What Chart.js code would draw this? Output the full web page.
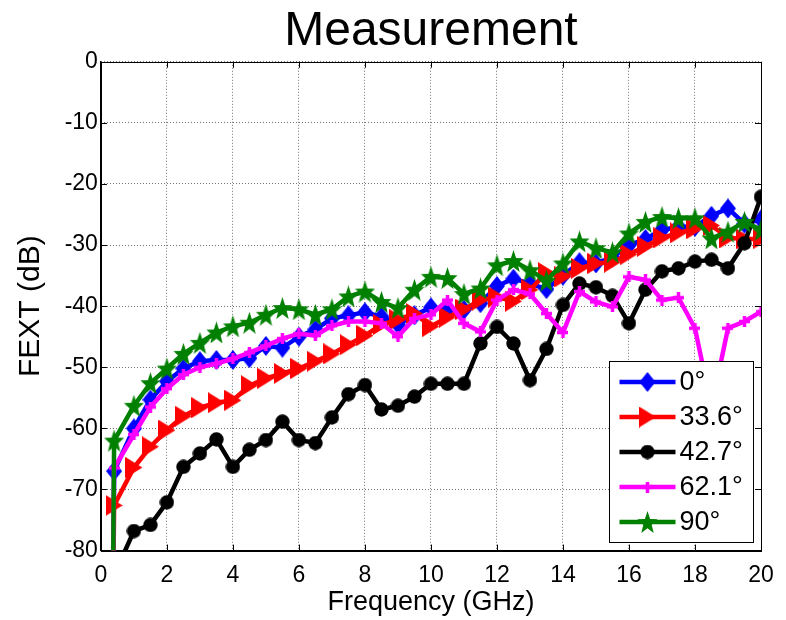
<!DOCTYPE html>
<html>
<head>
<meta charset="utf-8">
<script src="https://cdn.jsdelivr.net/npm/chart.js@4.4.1/dist/chart.umd.min.js"></script>
<style>
  html, body { margin: 0; padding: 0; background: #fff; }
</style>
</head>
<body>
<canvas id="thecanvas" width="786" height="620"></canvas>
<script>
// frequency points (GHz); first one is the low start point that drops off the axis
const freq = [0.35, 0.4, 1, 1.5, 2, 2.5, 3, 3.5, 4, 4.5, 5, 5.5, 6, 6.5, 7, 7.5, 8, 8.5, 9, 9.5,
  10, 10.5, 11, 11.5, 12, 12.5, 13, 13.5, 14, 14.5, 15, 15.5, 16, 16.5, 17, 17.5, 18, 18.5, 19, 19.5, 20];

const deg0 = [-100, -67, -60, -55.3, -52.3, -50.2, -49, -48.8, -48.8, -48.5, -46.5, -46.8, -45, -43.8, -42,
  -41.5, -41, -41.7, -43, -41.5, -40.2, -40.5, -40.6, -39.5, -36.7, -35.5, -36.3, -37.2, -35, -32.8,
  -33, -32, -30, -29, -27.5, -27, -27, -25.2, -24, -26.5, -25.8];
const deg33 = [-100, -72.6, -66.4, -63, -60.3, -58, -56.6, -55.8, -55.4, -53, -51.8, -51, -50.2, -49, -47.8,
  -46.3, -44.8, -43, -42.2, -41.2, -43.3, -41.8, -40.5, -39, -38.5, -39.2, -37.3, -34.5, -35.2, -33.8,
  -33, -32.8, -31.5, -30.2, -28.8, -28, -27.3, -26.8, -28.8, -29, -29];
const deg42 = [-100, -84, -76.8, -75.8, -72.1, -66.3, -64.1, -61.8, -66.3, -63.5, -61.9, -58.9, -61.9, -62.4, -58.2,
  -54.4, -52.9, -56.9, -56.3, -54.8, -52.7, -52.7, -52.7, -46.1, -43.4, -46.1, -52.1, -47, -39.8, -36.3,
  -36.9, -38.3, -42.8, -37.3, -34.3, -33.8, -32.7, -32.4, -33.8, -29.7, -22.1];
const deg62 = [-100, -66.5, -61, -56.5, -53.5, -51.2, -50, -49.4, -48.6, -47.6, -46.5, -45.3, -44.5, -44.8, -43.2,
  -42.5, -42.5, -42.8, -45, -42, -41.4, -39, -42.8, -44.2, -39, -37.3, -38, -41.2, -44.3, -37.6,
  -39.3, -40.1, -35.2, -35.7, -39, -38.6, -43.6, -56.5, -43.6, -42.5, -40.9];
const deg90 = [-100, -62, -56.3, -52.6, -50.2, -47.8, -46, -44.3, -43.3, -42.7, -41.4, -40.3, -40.5, -41.4, -40.5,
  -38.4, -37.6, -39.3, -40.3, -37.3, -35.2, -35.4, -38, -37.1, -33.3, -32.6, -34.1, -35.8, -33, -29.4,
  -30.5, -31.2, -28.1, -26.2, -25.4, -25.6, -25.6, -28.9, -27.8, -26.2, -27.5];

const names = ['0°', '33.6°', '42.7°', '62.1°', '90°'];
const colors = ['#0000ff', '#ff0000', '#000000', '#ff00ff', '#008000'];

const fontfam = '"Liberation Sans", Arial, Helvetica, sans-serif';

// marker pictures, drawn once on small canvases
function makemarker(kind, color) {
  const c = document.createElement('canvas');
  let w = 16, h = 20;
  if (kind === 'tri') { w = 17; h = 21; }
  if (kind === 'circle') { w = 15; h = 15; }
  if (kind === 'plus') { w = 11; h = 11; }
  if (kind === 'star') { w = 21; h = 22; }
  c.width = w; c.height = h;
  const g = c.getContext('2d');
  g.fillStyle = color; g.strokeStyle = color;
  if (kind === 'diamond') {
    g.beginPath(); g.moveTo(w / 2, 0); g.lineTo(w, h / 2); g.lineTo(w / 2, h); g.lineTo(0, h / 2); g.closePath(); g.fill();
  } else if (kind === 'tri') {
    g.beginPath(); g.moveTo(0, 0); g.lineTo(w, h / 2); g.lineTo(0, h); g.closePath(); g.fill();
  } else if (kind === 'circle') {
    g.beginPath(); g.arc(w / 2, h / 2, w / 2 - 0.3, 0, Math.PI * 2); g.fill();
  } else if (kind === 'plus') {
    g.lineWidth = 3.5;
    g.beginPath(); g.moveTo(0, h / 2); g.lineTo(w, h / 2); g.moveTo(w / 2, 0); g.lineTo(w / 2, h); g.stroke();
  } else if (kind === 'star') {
    g.beginPath();
    for (let i = 0; i < 10; i++) {
      const r = i % 2 === 0 ? 1 : 0.42;
      const a = -Math.PI / 2 + i * Math.PI / 5;
      const px = w / 2 + Math.cos(a) * r * w / 2;
      const py = h * 0.55 + Math.sin(a) * r * h * 0.55;
      if (i === 0) g.moveTo(px, py); else g.lineTo(px, py);
    }
    g.closePath(); g.fill();
  }
  return c;
}

const markers = [
  makemarker('diamond', colors[0]),
  makemarker('tri', colors[1]),
  makemarker('circle', colors[2]),
  makemarker('plus', colors[3]),
  makemarker('star', colors[4])
];

function pts(vals) {
  const out = [];
  for (let i = 0; i < freq.length; i++) out.push({ x: freq[i], y: vals[i] });
  return out;
}

const allvals = [deg0, deg33, deg42, deg62, deg90];
const datasets = [];
for (let k = 0; k < allvals.length; k++) {
  datasets.push({
    label: names[k],
    data: pts(allvals[k]),
    borderColor: colors[k],
    backgroundColor: colors[k],
    borderWidth: 4.5,
    pointStyle: markers[k],
    pointRadius: (c) => (c.dataIndex === 0 ? 0 : 8),
    pointHoverRadius: 8,
    tension: 0,
    order: 5 - k  // later series on top, like matlab
  });
}

// box, inward ticks and the legend
const extras = {
  id: 'extras',
  afterDraw(chart) {
    const ctx = chart.ctx;
    const a = chart.chartArea;
    const xs = chart.scales.x, ys = chart.scales.y;
    ctx.save();
    ctx.strokeStyle = '#000';
    ctx.lineWidth = 1;
    ctx.strokeRect(Math.round(a.left) + 0.5, Math.round(a.top) + 0.5, Math.round(a.right - a.left), Math.round(a.bottom - a.top));
    ctx.beginPath();
    xs.ticks.forEach(t => {
      const px = Math.round(xs.getPixelForValue(t.value)) + 0.5;
      ctx.moveTo(px, a.bottom); ctx.lineTo(px, a.bottom - 6);
      ctx.moveTo(px, a.top); ctx.lineTo(px, a.top + 6);
    });
    ys.ticks.forEach(t => {
      const py = Math.round(ys.getPixelForValue(t.value)) + 0.5;
      ctx.moveTo(a.left, py); ctx.lineTo(a.left + 6, py);
      ctx.moveTo(a.right, py); ctx.lineTo(a.right - 6, py);
    });
    ctx.stroke();

    // legend box in the lower right corner
    const lx = 609.5, ly = 361.5, lw = 144, lh = 181;
    ctx.fillStyle = '#fff';
    ctx.fillRect(lx, ly, lw, lh);
    ctx.strokeRect(lx, ly, lw, lh);
    ctx.font = '27px ' + fontfam;
    ctx.textBaseline = 'middle';
    ctx.textAlign = 'left';
    for (let k = 0; k < names.length; k++) {
      const ry = ly + 20.5 + k * 35;
      ctx.strokeStyle = colors[k];
      ctx.lineWidth = 4.5;
      ctx.beginPath(); ctx.moveTo(lx + 10, ry); ctx.lineTo(lx + 66, ry); ctx.stroke();
      const m = markers[k];
      ctx.drawImage(m, lx + 38 - m.width / 2, ry - m.height / 2);
      ctx.fillStyle = '#000';
      ctx.fillText(names[k], lx + 70, ry + 1);
    }
    ctx.restore();
  }
};

const gridopts = { color: 'rgba(0,0,0,0.55)', lineWidth: 1, drawTicks: false };
const borderopts = { display: true, color: '#000', width: 1, dash: [1, 2] };

new Chart(document.getElementById('thecanvas'), {
  type: 'line',
  data: { datasets: datasets },
  options: {
    responsive: false,
    animation: false,
    devicePixelRatio: 1,
    layout: { padding: { left: 0, right: 25, top: 0, bottom: 0 } },
    plugins: {
      legend: { display: false },
      tooltip: { enabled: false },
      title: {
        display: true,
        fullSize: false,
        text: 'Measurement',
        color: '#000',
        font: { family: fontfam, size: 48, weight: 'normal', lineHeight: 1.1 },
        padding: { top: 5, bottom: 4 }
      }
    },
    scales: {
      x: {
        type: 'linear',
        min: 0, max: 20,
        grid: gridopts,
        border: borderopts,
        ticks: { stepSize: 2, color: '#000', padding: 11, font: { family: fontfam, size: 23 } },
        title: { display: true, text: 'Frequency (GHz)', color: '#000', font: { family: fontfam, size: 27 }, padding: { top: 0, bottom: 1 } },
        afterFit: (s) => { s.height = 69.4; }
      },
      y: {
        type: 'linear',
        min: -80, max: 0,
        grid: gridopts,
        border: borderopts,
        ticks: { stepSize: 10, color: '#000', padding: 3, font: { family: fontfam, size: 23 } },
        title: { display: true, text: 'FEXT (dB)', color: '#000', font: { family: fontfam, size: 30 }, padding: { top: 13, bottom: 0 } },
        afterFit: (s) => { s.width = 100.9; }
      }
    }
  },
  plugins: [extras]
});
</script>
</body>
</html>
